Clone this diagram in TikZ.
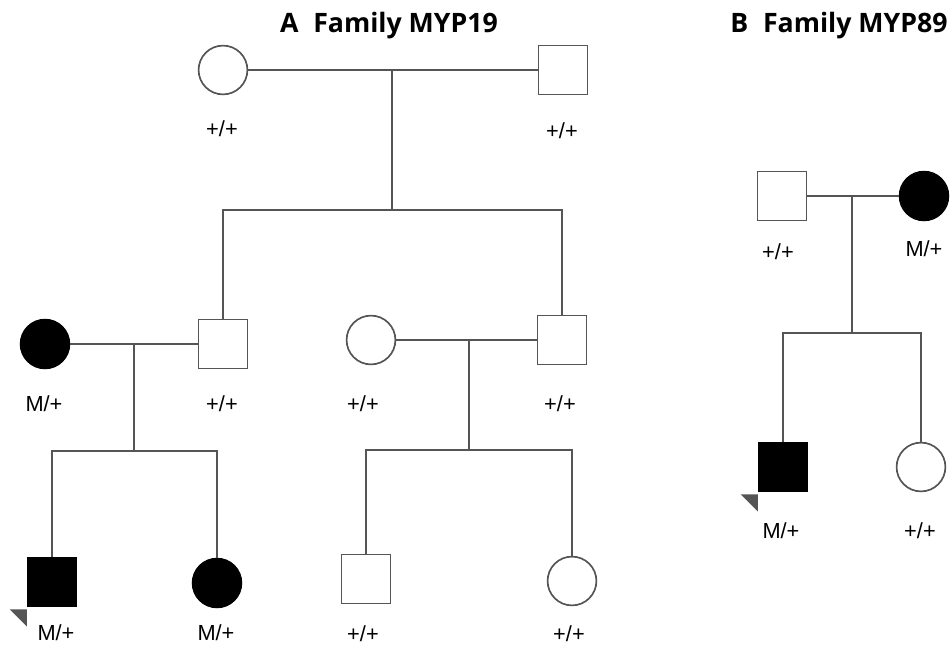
\documentclass[tikz,border=0pt]{standalone}
\usepackage{fontspec}
\setmainfont{Liberation Sans}
\newfontfamily\titlefont{Open Sans}
\definecolor{linegray}{RGB}{85,85,85}
\begin{document}
\begin{tikzpicture}[x=0.025cm, y=-0.025cm, line width=1.2pt,
    male/.style={draw=linegray, fill=white, rectangle, minimum size=1.22cm, inner sep=0pt},
    female/.style={draw=linegray, fill=white, circle, minimum size=1.22cm, inner sep=0pt},
    affected/.style={draw=black, fill=black},
    geno/.style={font=\fontsize{15.5}{17}\selectfont, inner sep=0.5pt},
    heading/.style={font=\titlefont\bfseries\fontsize{19}{22}\selectfont, anchor=base},
    link/.style={draw=linegray},
    proband/.style={fill=linegray}]

    \useasboundingbox (0,0) rectangle (950,647);

    % Titles
    \node[heading] at (389,32) (titleA) {A\hspace{0.55em}Family MYP19};
    \node[heading] at (839,32) (titleB) {B\hspace{0.55em}Family MYP89};

    % Family A, first generation
    \node at (223,70) (AI1) [female] {};
    \node at (563,70) (AI2) [male] {};
    \node at (222,129) (AI1g) [geno] {+/+};
    \node at (562,131) (AI2g) [geno] {+/+};

    % Family A, second generation
    \node at (45,344) (AII1) [female, affected] {};
    \node at (223,344) (AII2) [male] {};
    \node at (371,340) (AII3) [female] {};
    \node at (562,340) (AII4) [male] {};
    \node at (44,404) (AII1g) [geno] {M/+};
    \node at (222,404) (AII2g) [geno] {+/+};
    \node at (363,404) (AII3g) [geno] {+/+};
    \node at (560,404) (AII4g) [geno] {+/+};

    % Family A, third generation
    \node at (52,582) (AIII1) [male, affected] {};
    \node at (217,583) (AIII2) [female, affected] {};
    \node at (366,579) (AIII3) [male] {};
    \node at (572,581) (AIII4) [female] {};
    \node at (56,633) (AIII1g) [geno] {M/+};
    \node at (216,633) (AIII2g) [geno] {M/+};
    \node at (363,634) (AIII3g) [geno] {+/+};
    \node at (569,634) (AIII4g) [geno] {+/+};

    % Family B, parents
    \node at (782,196) (BI1) [male] {};
    \node at (924,196) (BI2) [female, affected] {};
    \node at (778,252) (BI1g) [geno] {+/+};
    \node at (924,249) (BI2g) [geno] {M/+};

    % Family B, children
    \node at (783,467) (BII1) [male, affected] {};
    \node at (921,467) (BII2) [female] {};
    \node at (781,531) (BII1g) [geno] {M/+};
    \node at (920,531) (BII2g) [geno] {+/+};

    % Points on the marriage and sibship lines
    \coordinate (Am1) at (392,70);
    \coordinate (As1) at (392,210);
    \coordinate (Am2) at (134,344);
    \coordinate (As2) at (134,451);
    \coordinate (Am3) at (469,340);
    \coordinate (As3) at (469,450);
    \coordinate (Bm1) at (852,196);
    \coordinate (Bs1) at (852,333);

    % Lines for family A
    \draw[link] (AI1) -- (AI2);
    \draw[link] (Am1) -- (As1);
    \draw[link] (AII2) |- (As1) -| (AII4);
    \draw[link] (AII1) -- (AII2);
    \draw[link] (Am2) -- (As2);
    \draw[link] (AIII1) |- (As2) -| (AIII2);
    \draw[link] (AII3) -- (AII4);
    \draw[link] (Am3) -- (As3);
    \draw[link] (AIII3) |- (As3) -| (AIII4);

    % Lines for family B
    \draw[link] (BI1) -- (BI2);
    \draw[link] (Bm1) -- (Bs1);
    \draw[link] (BII1) |- (Bs1) -| (BII2);

    % Proband marks
    \fill[proband] (AIII1.south west) ++(-17,2) -- ++(17,0) -- ++(0,17) -- cycle;
    \fill[proband] (BII1.south west) ++(-17,2) -- ++(17,0) -- ++(0,17) -- cycle;

\end{tikzpicture}
\end{document}
